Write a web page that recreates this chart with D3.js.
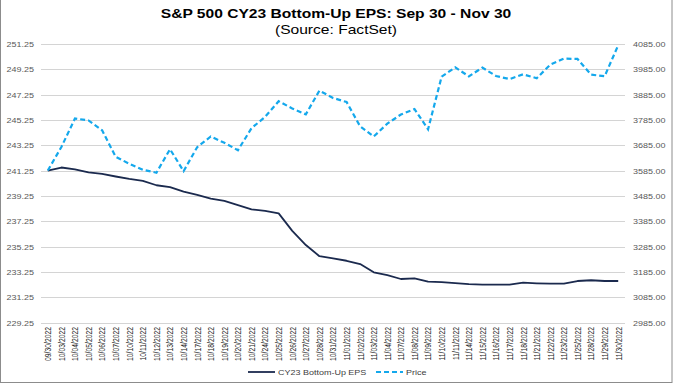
<!DOCTYPE html>
<head>
<meta charset="utf-8">
<title>S&amp;P 500 CY23 Bottom-Up EPS</title>
<style>
body {
  margin: 0;
  padding: 0;
  background: #fff;
  font-family: "Liberation Sans", Arial, sans-serif;
}
svg text {
  font-family: "Liberation Sans", Arial, sans-serif;
}
.grid line {
  stroke: #d4d4d4;
  stroke-width: 1;
}
</style>
</head>
<body>
<svg id="viz" width="674" height="388"></svg>
<script src="https://d3js.org/d3.v7.min.js"></script>
<script>

var dates = ['09/30/2022','10/03/2022','10/04/2022','10/05/2022','10/06/2022','10/07/2022',
  '10/10/2022','10/11/2022','10/12/2022','10/13/2022','10/14/2022','10/17/2022','10/18/2022',
  '10/19/2022','10/20/2022','10/21/2022','10/24/2022','10/25/2022','10/26/2022','10/27/2022',
  '10/28/2022','10/31/2022','11/01/2022','11/02/2022','11/03/2022','11/04/2022','11/07/2022',
  '11/08/2022','11/09/2022','11/10/2022','11/11/2022','11/14/2022','11/15/2022','11/16/2022',
  '11/17/2022','11/18/2022','11/21/2022','11/22/2022','11/23/2022','11/25/2022','11/28/2022',
  '11/29/2022','11/30/2022']

var eps = [241.25, 241.50, 241.36, 241.12, 240.99, 240.79, 240.60, 240.44, 240.10, 239.95,
  239.60, 239.34, 239.05, 238.86, 238.54, 238.20, 238.07, 237.88, 236.50, 235.38,
  234.50, 234.33, 234.14, 233.88, 233.23, 233.01, 232.70, 232.75, 232.49, 232.46,
  232.38, 232.30, 232.25, 232.25, 232.26, 232.41, 232.36, 232.33, 232.33, 232.54,
  232.60, 232.54, 232.54]

var price = [3585.62, 3678.43, 3790.93, 3783.28, 3744.52, 3639.66, 3612.39, 3588.84, 3577.03, 3669.91,
  3583.07, 3677.95, 3719.98, 3695.16, 3665.78, 3752.75, 3797.34, 3859.11, 3830.60, 3807.30,
  3901.06, 3871.98, 3856.10, 3759.69, 3719.89, 3770.55, 3806.80, 3828.11, 3748.57, 3956.37,
  3992.93, 3957.25, 3991.73, 3958.79, 3946.56, 3965.34, 3949.94, 4003.58, 4027.26, 4026.12,
  3963.94, 3957.63, 4080.11]

var leftTicks = d3.range(229.25, 251.26, 2)
var rightTicks = d3.range(2985, 4085.1, 100)

var seriesNames = ['CY23 Bottom-Up EPS', 'Price']
var title = 'S&P 500 CY23 Bottom-Up EPS: Sep 30 - Nov 30'
var subtitle = '(Source: FactSet)'

// the original picture is a little wider than tall, so text gets stretched sideways
var stretch = 'scale(1.2,1)'

var svg = d3.select('#viz')
var plotLeft = 41, plotRight = 625, plotTop = 44, plotBottom = 322.7

var x = d3.scalePoint().domain(dates).range([plotLeft, plotRight]).padding(0.5)
var yL = d3.scaleLinear().domain([229.25, 251.25]).range([plotBottom, plotTop])
var yR = d3.scaleLinear().domain([2985, 4085]).range([plotBottom, plotTop])

// outer frame
svg.append('rect')
  .attr('x', 0.5).attr('y', -2)
  .attr('width', 671.5).attr('height', 384.5)
  .attr('fill', 'none')
  .attr('stroke', '#8c8c8c')
  .attr('stroke-width', 1)

// title
svg.append('text')
  .attr('transform', 'translate(336,18) ' + stretch)
  .attr('text-anchor', 'middle')
  .style('font-size', '13px')
  .style('font-weight', 'bold')
  .attr('fill', '#000')
  .text(title)

svg.append('text')
  .attr('transform', 'translate(336,33.5) ' + stretch)
  .attr('text-anchor', 'middle')
  .style('font-size', '13px')
  .attr('fill', '#000')
  .text(subtitle)

// gridlines
svg.append('g')
  .attr('class', 'grid')
  .selectAll('line')
  .data(leftTicks)
  .enter().append('line')
    .attr('x1', plotLeft)
    .attr('x2', plotRight)
    .attr('y1', function(d) { return Math.round(yL(d)) + 0.5 })
    .attr('y2', function(d) { return Math.round(yL(d)) + 0.5 })

// left axis
var gL = svg.append('g')
  .attr('transform', 'translate(34,0)')
  .call(d3.axisLeft(yL).tickValues(leftTicks).tickSize(0).tickPadding(0).tickFormat(d3.format('.2f')))
gL.select('.domain').remove()
gL.selectAll('text')
  .attr('x', 0)
  .attr('transform', stretch)
  .attr('fill', '#595959')
  .style('font-size', '7.5px')

// right axis
var gR = svg.append('g')
  .attr('transform', 'translate(633,0)')
  .call(d3.axisRight(yR).tickValues(rightTicks).tickSize(0).tickPadding(0).tickFormat(d3.format('.2f')))
gR.select('.domain').remove()
gR.selectAll('text')
  .attr('x', 0)
  .attr('transform', stretch)
  .attr('fill', '#595959')
  .style('font-size', '7.5px')

// bottom axis, rotated date labels
var gX = svg.append('g')
  .attr('transform', 'translate(0,327)')
  .call(d3.axisBottom(x).tickSize(0).tickPadding(0))
gX.select('.domain').remove()
gX.selectAll('text')
  .attr('x', 0)
  .attr('y', 0)
  .attr('dy', '0.35em')
  .attr('text-anchor', 'end')
  .attr('transform', stretch + ' rotate(-90)')
  .attr('fill', '#262626')
  .style('font-size', '6.8px')

// lines
var lineL = d3.line()
  .x(function(d, i) { return x(dates[i]) })
  .y(function(d) { return yL(d) })

var lineR = d3.line()
  .x(function(d, i) { return x(dates[i]) })
  .y(function(d) { return yR(d) })

svg.append('path')
  .datum(eps)
  .attr('d', lineL)
  .attr('fill', 'none')
  .attr('stroke', '#1b2a4e')
  .attr('stroke-width', 1.8)
  .attr('stroke-linejoin', 'round')

svg.append('path')
  .datum(price)
  .attr('d', lineR)
  .attr('fill', 'none')
  .attr('stroke', '#14a8ec')
  .attr('stroke-width', 2.2)
  .attr('stroke-dasharray', '5,3')

// legend
var legend = svg.append('g').attr('transform', 'translate(0,372)')
var legendItems = [
  { name: seriesNames[0], x: 248, color: '#1b2a4e', dash: null, w: 1.8 },
  { name: seriesNames[1], x: 376, color: '#14a8ec', dash: '5,3', w: 2.2 }
]
legendItems.forEach(function(d) {
  legend.append('line')
    .attr('x1', d.x).attr('x2', d.x + 27)
    .attr('y1', 0).attr('y2', 0)
    .attr('stroke', d.color)
    .attr('stroke-width', d.w)
    .attr('stroke-dasharray', d.dash)
  legend.append('text')
    .attr('transform', 'translate(' + (d.x + 30) + ',0) ' + stretch)
    .attr('dy', '0.35em')
    .attr('fill', '#404040')
    .style('font-size', '7.5px')
    .text(d.name)
})

</script>
</body>
</html>
